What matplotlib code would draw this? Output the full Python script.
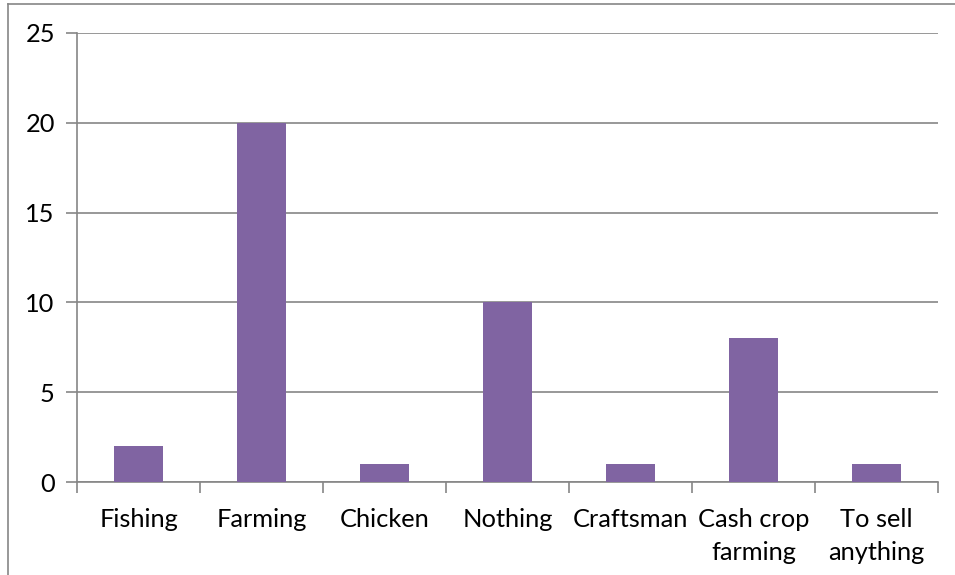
import matplotlib.pyplot as plt
import numpy as np
from matplotlib.lines import Line2D

categories = ['Fishing', 'Farming', 'Chicken', 'Nothing', 'Craftsman',
              'Cash crop\nfarming', 'To sell\nanything']
values = [2, 20, 1, 10, 1, 8, 1]
y_ticks = [0, 5, 10, 15, 20, 25]

plt.rcParams['font.family'] = ['Lato', 'DejaVu Sans']

W, H = 955, 575
fig = plt.figure(figsize=(W / 100, H / 100), dpi=100)
ax = fig.add_axes([77 / W, 1 - 482 / H, (938 - 77) / W, (482 - 33) / H])

grid_col = '#868686'
x = np.arange(len(categories))
ax.bar(x, values, width=0.4, color='#8064A2', zorder=3)

ax.set_xlim(-0.5, len(categories) - 0.5)
ax.set_ylim(0, 25)
ax.set_yticks(y_ticks)
ax.yaxis.grid(True, color=grid_col, linewidth=1.2, zorder=0)

ax.set_xticks(x)
ax.set_xticklabels(categories, fontsize=18.3, color='black', linespacing=1.5)
ax.set_xticks(np.arange(-0.5, len(categories)), minor=True)
ax.tick_params(axis='x', which='major', length=0, pad=19)
ax.tick_params(axis='x', which='minor', length=8, width=1.2, color=grid_col, direction='out')
ax.tick_params(axis='y', length=8, width=1.2, color=grid_col, labelsize=18.3, pad=8)

for s in ['top', 'right']:
    ax.spines[s].set_visible(False)
for s in ['left', 'bottom']:
    ax.spines[s].set_color(grid_col)
    ax.spines[s].set_linewidth(1.2)

# outer chart frame (partly cropped)
fig.add_artist(Line2D([8 / W, 8 / W], [0, 1 - 4 / H], color=grid_col, linewidth=1.2,
                      transform=fig.transFigure))
fig.add_artist(Line2D([8 / W, 1], [1 - 4 / H, 1 - 4 / H], color=grid_col, linewidth=1.2,
                      transform=fig.transFigure))

plt.savefig('out.png', dpi=100)
